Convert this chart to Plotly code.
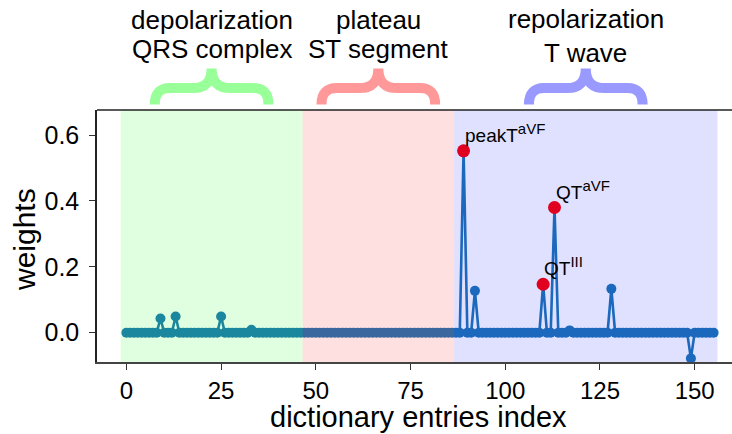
import plotly.graph_objects as go

# ---------------- data ----------------
weights = [
    0, 0, 0, 0, 0, 0, 0, 0, 0, 0.043,      # 0-9
    0, 0, 0, 0.049, 0, 0, 0, 0, 0, 0,      # 10-19
    0, 0, 0, 0, 0, 0.049, 0, 0, 0, 0,      # 20-29
    0, 0, 0, 0.009, 0, 0, 0, 0, 0, 0,      # 30-39
    0, 0, 0, 0, 0, 0, 0, 0, 0, 0,          # 40-49
    0, 0, 0, 0, 0, 0, 0, 0, 0, 0,          # 50-59
    0, 0, 0, 0, 0, 0, 0, 0, 0, 0,          # 60-69
    0, 0, 0, 0, 0, 0, 0, 0, 0, 0,          # 70-79
    0, 0, 0, 0, 0, 0, 0, 0, 0, 0.552,      # 80-89
    0, 0, 0.127, 0, 0, 0, 0, 0, 0, 0,      # 90-99
    0, 0, 0, 0, 0, 0, 0, 0, 0, 0,          # 100-109
    0.147, 0, 0, 0.380, 0, 0, 0, 0.007, 0, 0,  # 110-119
    0, 0, 0, 0, 0, 0, 0, 0, 0.133, 0,      # 120-129
    0, 0, 0, 0, 0, 0, 0, 0, 0, 0,          # 130-139
    0, 0, 0, 0, 0, 0, 0, 0, 0, -0.078,     # 140-149
    0, 0, 0, 0, 0, 0,                      # 150-155
]
indices = list(range(len(weights)))

highlight_idx = [89, 113, 110]
highlight_main = ["peakT", "QT", "QT"]
highlight_sup = ["aVF", "aVF", "III"]

region_bounds = [-1.5, 46.5, 86.5, 156.0]
region_fill = ["rgb(0,255,0)", "rgb(255,0,0)", "rgb(0,0,255)"]
region_brace = ["#99ff99", "#ff9999", "#9999ff"]
region_line1 = ["depolarization", "plateau", "repolarization"]
region_line2 = ["QRS complex", "ST segment", "T wave"]

x_ticks = [0, 25, 50, 75, 100, 125, 150]
y_ticks = [0.0, 0.2, 0.4, 0.6]

x_title = "dictionary entries index"
y_title = "weights"

FONT = "Arial, Liberation Sans, sans-serif"
BLUE = "#1f77b4"

fig = go.Figure()

fig.add_trace(go.Scatter(
    x=indices, y=weights, mode="lines+markers",
    line=dict(color=BLUE, width=2.6),
    marker=dict(color=BLUE, size=10),
    showlegend=False, hoverinfo="skip",
))

fig.add_trace(go.Scatter(
    x=highlight_idx, y=[weights[i] for i in highlight_idx], mode="markers",
    marker=dict(color="red", size=13),
    showlegend=False, hoverinfo="skip",
))

for i, idx in enumerate(highlight_idx):
    fig.add_annotation(
        x=idx, y=weights[idx], xref="x", yref="y",
        text=f"{highlight_main[i]}<sup><span style='font-size:15px'>{highlight_sup[i]}</span></sup>",
        showarrow=False, xanchor="left", yanchor="bottom",
        xshift=-1, yshift=3,
        font=dict(family=FONT, size=19, color="black"),
    )

# shaded regions (drawn on top, translucent)
for k in range(3):
    fig.add_shape(
        type="rect", xref="x", yref="paper",
        x0=region_bounds[k], x1=region_bounds[k + 1], y0=0, y1=1,
        fillcolor=region_fill[k], opacity=0.12, line_width=0, layer="above",
    )

# top frame line (top spine)
fig.add_shape(
    type="line", xref="paper", yref="paper", x0=0, x1=1, y0=1, y1=1,
    line=dict(color="#222", width=1.5), layer="above",
)

# braces and labels
half_w = 15.0
r_end = 4.0
r_tip = 5.0
y_end, y_bar, y_tip = 1.022, 1.087, 1.165
line1_shift = [90, 90, 91]
line2_shift = [61, 61, 57]
for k in range(3):
    xc = (region_bounds[k] + region_bounds[k + 1]) / 2
    xl, xr = xc - half_w, xc + half_w
    path = (
        f"M {xl},{y_end} Q {xl},{y_bar} {xl + r_end},{y_bar} "
        f"L {xc - r_tip},{y_bar} Q {xc},{y_bar} {xc},{y_tip} "
        f"Q {xc},{y_bar} {xc + r_tip},{y_bar} "
        f"L {xr - r_end},{y_bar} Q {xr},{y_bar} {xr},{y_end}"
    )
    fig.add_shape(
        type="path", xref="x", yref="paper", path=path,
        line=dict(color=region_brace[k], width=10), layer="above",
    )
    fig.add_annotation(
        x=xc, y=1.0, xref="x", yref="paper", yanchor="middle",
        text=region_line1[k], showarrow=False, yshift=line1_shift[k],
        font=dict(family=FONT, size=26, color="black"),
    )
    fig.add_annotation(
        x=xc, y=1.0, xref="x", yref="paper", yanchor="middle",
        text=region_line2[k], showarrow=False, yshift=line2_shift[k],
        font=dict(family=FONT, size=26, color="black"),
    )

# axis titles
fig.add_annotation(
    x=0.5, y=0, xref="paper", yref="paper", xanchor="center", yanchor="middle",
    text=x_title, showarrow=False, yshift=-55, xshift=-2,
    font=dict(family=FONT, size=29, color="black"),
)
fig.add_annotation(
    x=0, y=0.484, xref="paper", yref="paper", xanchor="center", yanchor="middle",
    text=y_title, showarrow=False, textangle=-90, xshift=-73,
    font=dict(family=FONT, size=30, color="black"),
)

# figure is a bit wider than the 732px window: the right spine falls outside (cropped, as in the reference)
fig.update_layout(
    width=743, height=434,
    margin=dict(l=97, r=0, t=110, b=72),
    paper_bgcolor="white", plot_bgcolor="white",
    font=dict(family=FONT, color="black"),
)

fig.update_xaxes(
    range=[-7.75, 162.75], tickvals=x_ticks, ticktext=[str(v) for v in x_ticks],
    showgrid=False, zeroline=False, automargin=False,
    showline=True, linecolor="#444", linewidth=1.5, mirror=False,
    ticks="outside", ticklen=6, tickcolor="#333", tickwidth=1.2,
    tickfont=dict(family=FONT, size=24, color="black"),
)
fig.update_yaxes(
    range=[-0.089, 0.676], tickvals=y_ticks, ticktext=[f"{v:.1f}" for v in y_ticks],
    showgrid=False, zeroline=False, automargin=False,
    showline=True, linecolor="#222", linewidth=1.5, mirror=False,
    ticks="outside", ticklen=6, tickcolor="#333", tickwidth=1.2,
    ticklabelstandoff=5,
    tickfont=dict(family=FONT, size=25, color="black"),
)

fig.write_html(
    "out.html",
    config={"displayModeBar": False},
    post_script=(
        "document.body.style.margin='0px';document.body.style.padding='0px';"
        "document.body.style.overflow='hidden';document.documentElement.style.overflow='hidden';"
    ),
)
